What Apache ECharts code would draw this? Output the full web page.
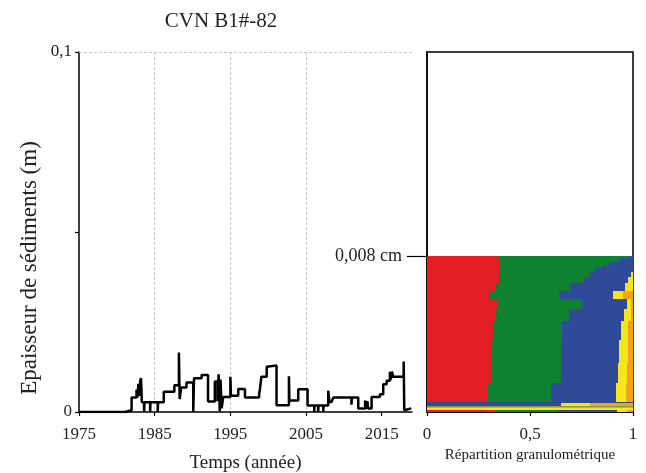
<!DOCTYPE html>
<html><head><meta charset="utf-8">
<script src="https://cdn.jsdelivr.net/npm/echarts@6/dist/echarts.min.js"></script>
<style>html,body{margin:0;padding:0;background:#fff}#c{width:646px;height:473px}</style>
</head><body><div id="c"></div>
<script>
// ---------- data ----------
const chartTitle = 'CVN B1#-82';
const yearTicks = [1975, 1985, 1995, 2005, 2015];
const thicknessTicks = [0, 0.05, 0.1];
const thicknessLabels = ['0', '', '0,1'];
// sediment thickness (m) time series, step after each point
const years = [1975,1981.1,1981.95,1982.6,1982.7,1982.85,1982.95,1983.1,1983.2,1983.3,1983.6,1983.65,1984.4,1984.45,1985.4,1985.45,1986.2,1987.6,1988.2,1988.3,1988.5,1989.2,1990.1,1990.15,1990.2,1991.2,1992.05,1992.95,1993.3,1993.45,1993.6,1993.7,1993.85,1994.06,1995.0,1995.08,1996.04,1996.93,1998.8,1998.9,1999.1,1999.8,2000.0,2001.1,2002.74,2002.8,2003.97,2005.2,2006.08,2006.13,2006.6,2006.65,2007.27,2007.32,2007.93,2008.1,2008.38,2008.6,2011.0,2011.05,2011.9,2012.8,2012.9,2013.1,2013.2,2013.66,2014.76,2015.2,2015.65,2016.08,2016.2,2016.35,2016.52,2017.9,2017.98,2018.1,2018.9];
const thickness = [0,0.0005,0.0040,0.0062,0.0040,0.0078,0.0045,0.0088,0.0094,0.0027,0,0.0027,0,0.0027,0,0.0027,0.0056,0.0074,0.0165,0.0036,0.0068,0.0082,0,0.0001,0.0094,0.0103,0.0029,0.0085,0.0030,0.0105,0.0002,0.0090,0.0010,0.0042,0.0098,0.0045,0.0064,0.0040,0.0050,0.0062,0.0098,0.0126,0.0129,0.0019,0.0099,0.0032,0.0063,0.0018,0,0.0018,0,0.0018,0,0.0018,0.0059,0.0028,0.0032,0.0040,0.0020,0.0040,0.0010,0.0032,0.0008,0.0030,0.0010,0.0042,0.0049,0.0077,0.0087,0.0112,0.0090,0.0112,0.0098,0.0140,0.0005,0.0010,0.0010];

// grain-size distribution layers (top -> bottom depth boundaries, axis units)
const depthTicks = [0.008];
const depthLabels = ['0,008 cm'];
const layerTop    = [0.0080,0.0079,0.00772,0.00755,0.00738,0.00721,0.00695,0.00661,0.00623,0.00579,0.00528,0.00469,0.00370,0.00252,0.00149,0.00053,0.00044,0.00033,0.00027,0.00018,0.00010];
const layerBottom = [0.0079,0.00772,0.00755,0.00738,0.00721,0.00695,0.00661,0.00623,0.00579,0.00528,0.00469,0.00370,0.00252,0.00149,0.00053,0.00044,0.00033,0.00027,0.00018,0.00010,0];
const fracRed    = [0.340,0.355,0.355,0.354,0.354,0.354,0.349,0.333,0.304,0.345,0.333,0.322,0.317,0.317,0.296,0,0,0,0,0,0.33];
const fracGreen  = [0.645,0.582,0.533,0.494,0.462,0.434,0.410,0.361,0.338,0.406,0.357,0.335,0.332,0.332,0.304,0,0,0,0,0,0.31];
const fracBlue   = [0.015,0.063,0.112,0.152,0.184,0.202,0.218,0.267,0.259,0.218,0.266,0.283,0.284,0.280,0.317,1,0.65,0,0,0,0.28];
const fracYellow = [0,0,0,0,0,0.010,0.023,0.039,0.052,0.021,0.034,0.037,0.042,0.040,0.049,0,0.14,0,0,1,0.05];
const fracOrange = [0,0,0,0,0,0,0,0,0.047,0.010,0.010,0.023,0.025,0.031,0.034,0,0.21,0,1,0,0.03];
const fracOlive  = [0,0,0,0,0,0,0,0,0,0,0,0,0,0,0,0,0,1,0,0,0];
const fractionTicks = [0, 0.5, 1];
const fractionLabels = ['0', '0,5', '1'];

// ---------- chart ----------
const FONT = 'Liberation Serif';
const classColors = ['#e31e24', '#0f8232', '#2f4b97', '#f6e51a', '#f4a11b', '#8d9a3e'];
const fracs = [fracRed, fracGreen, fracBlue, fracYellow, fracOrange, fracOlive];

const lineData = years.map((y, i) => [y, thickness[i]]);
const layerData = layerTop.map((t, i) => [layerBottom[i], t].concat(fracs.map(f => f[i])));

const chart = echarts.init(document.getElementById('c'), null, {renderer: 'canvas'});
chart.setOption({
  animation: false,
  backgroundColor: '#fff',
  title: {
    text: chartTitle, left: 216, top: 6, textAlign: 'center',
    textStyle: {fontFamily: FONT, fontSize: 21, fontWeight: 'normal', color: '#222'}
  },
  graphic: [{
    type: 'text', x: 30, y: 268, rotation: Math.PI / 2,
    style: {text: 'Epaisseur de sédiments (m)', fontFamily: FONT, fontSize: 23,
      fill: '#222', align: 'center', verticalAlign: 'middle'}
  }],
  grid: [
    {left: 79, right: 234, top: 52, bottom: 61, containLabel: false, outerBoundsMode: 'none'},
    {left: 427, right: 13, top: 52, bottom: 61, containLabel: false, outerBoundsMode: 'none',
     show: true, borderColor: '#000', borderWidth: 1.5, backgroundColor: '#fff'}
  ],
  xAxis: [{
    gridIndex: 0, type: 'value', min: 1975, max: 2019, interval: 10,
    name: 'Temps (année)', nameLocation: 'middle', nameGap: 42,
    nameTextStyle: {fontFamily: FONT, fontSize: 19, color: '#222'},
    axisLine: {lineStyle: {color: '#000', width: 1.5}},
    axisTick: {customValues: yearTicks, length: 4, lineStyle: {color: '#000', width: 1.2}},
    axisLabel: {customValues: yearTicks, margin: 14, fontFamily: FONT, fontSize: 17, color: '#222',
      formatter: v => String(Math.round(v))},
    splitLine: {show: true, showMinLine: false, showMaxLine: false,
      lineStyle: {type: [3, 2], color: '#c8c8c8', width: 1}}
  }, {
    gridIndex: 1, type: 'value', min: 0, max: 1, interval: 0.5,
    name: 'Répartition granulométrique', nameLocation: 'middle', nameGap: 33,
    nameTextStyle: {fontFamily: FONT, fontSize: 15, color: '#222'},
    axisLine: {lineStyle: {color: '#000', width: 1.5}},
    axisTick: {customValues: fractionTicks, length: 4, lineStyle: {color: '#000', width: 1.2}},
    axisLabel: {customValues: fractionTicks, margin: 14, fontFamily: FONT, fontSize: 17, color: '#222',
      formatter: v => fractionLabels[fractionTicks.indexOf(v)] ?? ''},
    splitLine: {show: false}
  }],
  yAxis: [{
    gridIndex: 0, type: 'value', min: 0, max: 0.1, interval: 0.05,
    axisLine: {show: true, lineStyle: {color: '#000', width: 1.5}},
    axisTick: {show: true, length: 4, lineStyle: {color: '#000', width: 1.2}},
    axisLabel: {margin: 7, fontFamily: FONT, fontSize: 17, color: '#222',
      formatter: v => { const i = thicknessTicks.findIndex(t => Math.abs(t - v) < 1e-9); return i >= 0 ? thicknessLabels[i] : ''; }},
    splitLine: {show: false}
  }, {
    gridIndex: 1, type: 'value', min: 0, max: 0.0185,
    axisLine: {show: true, lineStyle: {color: '#000', width: 1.5}},
    axisTick: {show: true, customValues: depthTicks, length: 20, lineStyle: {color: '#000', width: 1.2}},
    axisLabel: {customValues: depthTicks, margin: 25, fontFamily: FONT, fontSize: 18, color: '#222',
      formatter: v => depthLabels[depthTicks.indexOf(v)] ?? ''},
    splitLine: {show: false}
  }],
  series: [{
    type: 'line', xAxisIndex: 0, yAxisIndex: 0, data: lineData, step: 'end',
    symbol: 'none', lineStyle: {color: '#000', width: 2.5}, z: 5,
    markLine: {silent: true, symbol: 'none', label: {show: false},
      lineStyle: {type: [3, 2], color: '#c8c8c8', width: 1}, data: [{yAxis: 0.1}]}
  }, {
    type: 'custom', xAxisIndex: 1, yAxisIndex: 1, data: layerData,
    renderItem: (params, api) => {
      const y0 = api.value(0), y1 = api.value(1);
      const children = [];
      let acc = 0;
      for (let k = 0; k < classColors.length; k++) {
        const w = api.value(2 + k);
        if (w <= 0) continue;
        const p0 = api.coord([acc, y1]);
        const p1 = api.coord([acc + w, y0]);
        const x0 = Math.round(p0[0]), x1 = Math.round(p1[0]);
        const ya = Math.round(p0[1]), yb = Math.round(p1[1]);
        if (x1 > x0 && yb > ya) {
          children.push({type: 'rect',
            shape: {x: x0, y: ya, width: x1 - x0, height: yb - ya},
            style: {fill: classColors[k]}});
        }
        acc += w;
      }
      return {type: 'group', children};
    },
    z: 2
  }]
});
</script></body></html>
